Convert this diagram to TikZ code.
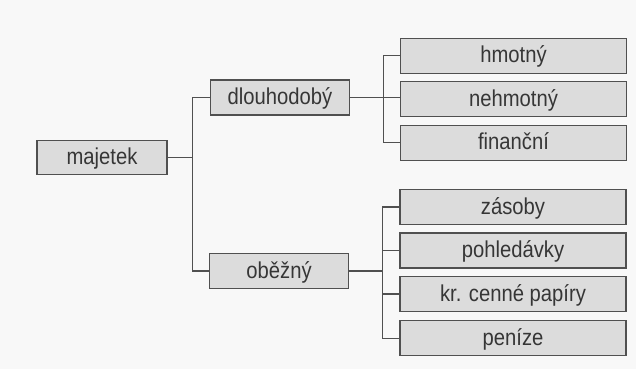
\documentclass[tikz,border=0pt]{standalone}
\usepackage{fontspec}
\setmainfont[FakeStretch=0.88]{Liberation Sans}
\definecolor{boxfill}{HTML}{DCDCDC}
\definecolor{linec}{HTML}{505050}
\definecolor{textc}{HTML}{363636}
\definecolor{bgc}{HTML}{F8F8F8}
\begin{document}
\begin{tikzpicture}[x=1pt,y=-1pt,
  box/.style={draw=linec, fill=boxfill, line width=1.3pt, inner sep=0pt,
    minimum height=35pt, text height=17pt, text depth=3pt, text=textc,
    font=\fontsize{23}{26}\selectfont},
  lbox/.style={box, minimum width=226pt},
  conn/.style={draw=linec, line width=1.1pt}]
\fill[bgc] (0,0) rectangle (636,369);
\useasboundingbox (0,0) rectangle (636,369);
\node[box, minimum width=130pt, minimum height=34pt] (maj) at (102,157.5) {majetek};
\node[box, minimum width=139pt] (dl) at (280,97.5) {dlouhodobý};
\node[box, minimum width=139pt] (ob) at (279,271) {oběžný};
\node[lbox] (hm) at (513.5,55.8) {hmotný};
\node[lbox] (nh) at (513.5,99.2) {nehmotný};
\node[lbox] (fi) at (513.5,142.8) {finanční};
\node[lbox] (za) at (513,207) {zásoby};
\node[lbox] (po) at (513,250.5) {pohledávky};
\node[lbox] (kr) at (513,294) {kr. cenné papíry};
\node[lbox] (pe) at (513,338.3) {peníze};
\coordinate (j0) at (192.7,157.5);
\coordinate (j1) at (383.5,97.5);
\coordinate (j2) at (382.3,271);
\draw[conn] (maj.east) -- (j0);
\draw[conn] (dl.west) -| (j0) |- (ob.west);
\draw[conn] (dl.east) -- (j1);
\draw[conn] (hm.west) -| (j1) |- (fi.west);
\draw[conn] (j1) -- (nh.west |- j1);
\draw[conn] (ob.east) -- (j2);
\draw[conn] (za.west) -| (j2) |- (pe.west);
\draw[conn] (po.west) -- (po.west -| j2);
\draw[conn] (kr.west) -- (kr.west -| j2);
\end{tikzpicture}
\end{document}
